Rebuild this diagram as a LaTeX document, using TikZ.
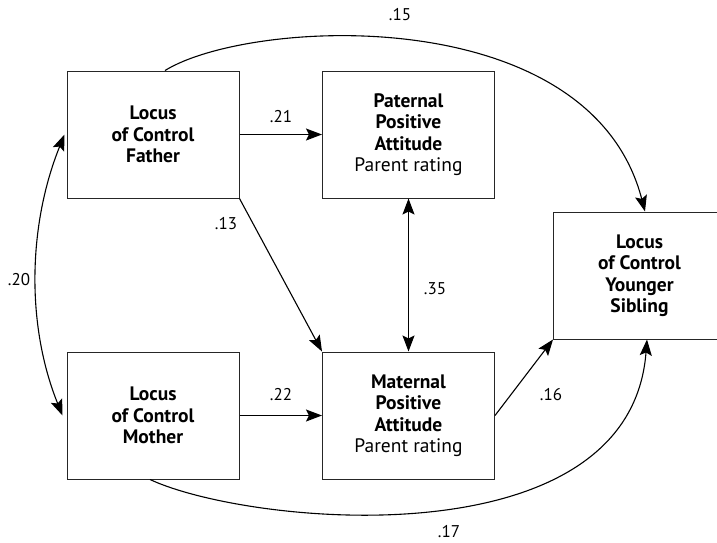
\documentclass[tikz,border=0pt]{standalone}
\usepackage{fontspec}
\setmainfont{PT Sans}
\usetikzlibrary{arrows.meta}
\begin{document}
\begin{tikzpicture}[x=1pt,y=-1pt,
  box/.style={draw=black!85,line width=1pt,minimum width=172pt,minimum height=127pt,align=center,font=\fontsize{19.5}{21.5}\selectfont,inner sep=0pt},
  lab/.style={font=\fontsize{17}{18}\selectfont,inner sep=0pt},
  arr/.style={line width=1.1pt,-{Stealth[length=16pt,width=12pt,inset=3pt]}},
  darr/.style={line width=1.1pt,{Stealth[length=16pt,width=12pt,inset=3pt]}-{Stealth[length=16pt,width=12pt,inset=3pt]}}]
\useasboundingbox (0,0) rectangle (717,542);
\node[box] (f) at (153,134.5) {\textbf{Locus}\\\textbf{of Control}\\\textbf{Father}};
\node[box] (pp) at (408.5,134.5) {\textbf{Paternal}\\\textbf{Positive}\\\textbf{Attitude}\\Parent rating};
\node[box] (m) at (153,415.5) {\textbf{Locus}\\\textbf{of Control}\\\textbf{Mother}};
\node[box] (mp) at (408.5,415.5) {\textbf{Maternal}\\\textbf{Positive}\\\textbf{Attitude}\\Parent rating};
\node[box] (y) at (639.5,275.5) {\textbf{Locus}\\\textbf{of Control}\\\textbf{Younger}\\\textbf{Sibling}};
\coordinate (fs) at ([xshift=12pt]f.north);
\coordinate (ye) at ([xshift=5.5pt]y.north);
\coordinate (ms) at ([xshift=-3pt]m.south);
\coordinate (ys) at ([xshift=7.5pt]y.south);
\coordinate (fl) at ([xshift=-2pt]f.west);
\coordinate (ml) at ([xshift=-4pt,yshift=0pt]m.west);
\draw[arr] (f.east) -- (pp.west);
\draw[arr] (m.east) -- (mp.west);
\draw[arr] (f.south east) -- (mp.north west);
\draw[darr] (pp.south) -- (mp.north);
\draw[arr] (mp.east) -- (y.south west);
\draw[arr] (fs) .. controls (250,18) and (590,0) .. (ye);
\draw[arr] (ms) .. controls (250,526) and (630,562) .. (ys);
\draw[darr] (fl) .. controls (28,225) and (26,325) .. (ml);
\node[lab] (l15) at (400,15) {.15};
\node[lab] (l21) at (281,117) {.21};
\node[lab] (l13) at (226,224) {.13};
\node[lab] (l35) at (435,289) {.35};
\node[lab] (l20) at (19,280) {.20};
\node[lab] (l22) at (281,395) {.22};
\node[lab] (l16) at (551,395) {.16};
\node[lab] (l17) at (449,532) {.17};
\end{tikzpicture}
\end{document}
